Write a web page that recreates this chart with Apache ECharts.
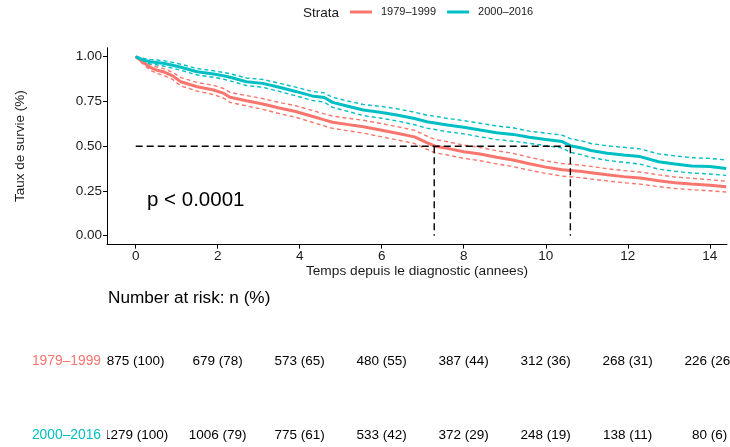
<!DOCTYPE html>
<html>
<head>
<meta charset="utf-8">
<script src="https://cdn.jsdelivr.net/npm/echarts@6/dist/echarts.min.js"></script>
<style>
html,body{margin:0;padding:0;background:#fff;}
#chart{width:730px;height:447px;}
</style>
</head>
<body>
<div id="chart"></div>
<script>
// ---- data ----
const strata = ['1979–1999', '2000–2016'];
const times = [0, 0.2, 0.35, 0.5, 0.67, 0.9, 1.1, 1.5, 1.9, 2.15, 2.3, 2.7, 3.1, 3.5, 3.9, 4.3, 4.6, 4.8, 5.15, 5.55, 6.0, 6.4, 6.8, 7.1, 7.3, 7.6, 8.0, 8.4, 8.8, 9.2, 9.6, 10.0, 10.4, 10.6, 10.9, 11.1, 11.5, 11.9, 12.3, 12.75, 13.15, 13.55, 14.0, 14.4];

const surv1979 = [1.0, 0.966, 0.941, 0.926, 0.916, 0.893, 0.860, 0.832, 0.814, 0.795, 0.773, 0.754, 0.736, 0.713, 0.694, 0.667, 0.647, 0.634, 0.622, 0.609, 0.589, 0.571, 0.552, 0.520, 0.500, 0.488, 0.469, 0.456, 0.438, 0.423, 0.402, 0.383, 0.368, 0.364, 0.358, 0.352, 0.340, 0.330, 0.322, 0.307, 0.296, 0.289, 0.282, 0.274];
const upper1979 = [1.0, 0.978, 0.957, 0.944, 0.935, 0.913, 0.883, 0.856, 0.840, 0.822, 0.801, 0.783, 0.766, 0.744, 0.726, 0.700, 0.681, 0.668, 0.657, 0.645, 0.626, 0.608, 0.589, 0.557, 0.537, 0.525, 0.506, 0.493, 0.475, 0.460, 0.438, 0.418, 0.403, 0.399, 0.393, 0.387, 0.374, 0.364, 0.356, 0.340, 0.328, 0.321, 0.313, 0.304];
const lower1979 = [1.0, 0.954, 0.925, 0.908, 0.897, 0.873, 0.837, 0.808, 0.788, 0.768, 0.745, 0.725, 0.706, 0.682, 0.662, 0.634, 0.613, 0.600, 0.587, 0.573, 0.552, 0.534, 0.515, 0.483, 0.463, 0.451, 0.432, 0.419, 0.401, 0.386, 0.366, 0.348, 0.333, 0.329, 0.323, 0.317, 0.306, 0.296, 0.288, 0.274, 0.264, 0.257, 0.251, 0.244];

const surv2000 = [1.0, 0.980, 0.972, 0.968, 0.963, 0.952, 0.941, 0.916, 0.903, 0.893, 0.885, 0.860, 0.851, 0.829, 0.806, 0.781, 0.772, 0.745, 0.725, 0.702, 0.688, 0.673, 0.655, 0.637, 0.630, 0.618, 0.606, 0.590, 0.575, 0.566, 0.550, 0.538, 0.526, 0.503, 0.489, 0.476, 0.461, 0.451, 0.442, 0.413, 0.401, 0.389, 0.386, 0.376];
const upper2000 = [1.0, 0.990, 0.985, 0.982, 0.978, 0.968, 0.958, 0.934, 0.921, 0.912, 0.905, 0.881, 0.873, 0.852, 0.830, 0.806, 0.798, 0.773, 0.754, 0.733, 0.722, 0.708, 0.690, 0.673, 0.667, 0.655, 0.643, 0.628, 0.613, 0.603, 0.584, 0.573, 0.562, 0.542, 0.528, 0.515, 0.502, 0.494, 0.485, 0.457, 0.446, 0.436, 0.432, 0.423];
const lower2000 = [1.0, 0.970, 0.960, 0.955, 0.948, 0.936, 0.924, 0.898, 0.885, 0.874, 0.865, 0.839, 0.829, 0.806, 0.782, 0.756, 0.746, 0.717, 0.696, 0.671, 0.656, 0.640, 0.620, 0.601, 0.593, 0.581, 0.569, 0.552, 0.537, 0.528, 0.516, 0.503, 0.490, 0.466, 0.451, 0.437, 0.421, 0.410, 0.400, 0.372, 0.360, 0.350, 0.345, 0.337];

const medians = [7.28, 10.6];
const medianLevel = 0.5;

const xTicks = [0, 2, 4, 6, 8, 10, 12, 14];
const yTicks = [0, 0.25, 0.5, 0.75, 1.0];

const riskTimes = [0, 2, 4, 6, 8, 10, 12, 14];
const n1979 = [875, 679, 573, 480, 387, 312, 268, 226];
const pct1979 = [100, 78, 65, 55, 44, 36, 31, 26];
const n2000 = [1279, 1006, 775, 533, 372, 248, 138, 80];
const pct2000 = [100, 79, 61, 42, 29, 19, 11, 6];

const pText = 'p < 0.0001';

// ---- styling ----
const RED = '#F8766D', TEAL = '#00BFC4';
const FONT = '"Liberation Sans", Arial, Helvetica, sans-serif';
const TXT = '#1a1a1a';

const pairs = (ys) => times.map((t, i) => [t, ys[i]]);

function mainLine(name, ys, color) {
  return { name, type: 'line', data: pairs(ys), showSymbol: false, symbol: 'none',
    color, itemStyle: { color }, lineStyle: { color, width: 3 }, z: 3, silent: true, xAxisIndex: 0, yAxisIndex: 0 };
}
function ciLine(name, ys, color) {
  return { name, type: 'line', data: pairs(ys), showSymbol: false, symbol: 'none',
    color, itemStyle: { color }, lineStyle: { color, width: 1.4, type: [4, 3] }, z: 2, silent: true, xAxisIndex: 0, yAxisIndex: 0 };
}
const medLineStyle = { color: '#000', width: 1.4, type: [7, 4] };
const medianSeries = [
  { type: 'line', data: [[0, medianLevel], [Math.max(...medians), medianLevel]], showSymbol: false, symbol: 'none', lineStyle: medLineStyle, z: 4, silent: true, xAxisIndex: 0, yAxisIndex: 0 }
].concat(medians.map(m => ({ type: 'line', data: [[m, medianLevel], [m, 0]], showSymbol: false, symbol: 'none', lineStyle: medLineStyle, z: 4, silent: true, xAxisIndex: 0, yAxisIndex: 0 })));

const riskRows = [
  riskTimes.map((t, i) => ({ value: [t, 0], label: n1979[i] + ' (' + pct1979[i] + ')' })),
  riskTimes.map((t, i) => ({ value: [t, 1], label: n2000[i] + ' (' + pct2000[i] + ')' }))
];
const riskData = riskRows[0].concat(riskRows[1]);

const chart = echarts.init(document.getElementById('chart'), null, { renderer: 'canvas' });

const option = {
  animation: false,
  backgroundColor: '#fff',
  textStyle: { fontFamily: FONT },
  grid: [
    { left: 107, top: 47.75, width: 620, height: 196.9 },
    { left: 107, top: 324, width: 623, height: 123 }
  ],
  legend: {
    data: strata,
    left: 350, top: 6.5, padding: 0,
    icon: 'rect', itemWidth: 22, itemHeight: 3, itemGap: 11,
    textStyle: { fontSize: 11, color: TXT, fontFamily: FONT, padding: [0, 0, 0, 4] },
    selectedMode: false
  },
  xAxis: [
    {
      type: 'value', gridIndex: 0, min: -0.7, max: 14.42,
      name: 'Temps depuis le diagnostic (annees)', nameLocation: 'middle', nameGap: 19,
      nameTextStyle: { fontSize: 13.7, color: TXT, fontFamily: FONT },
      axisLine: { show: true, onZero: false, lineStyle: { color: '#000', width: 1 } },
      axisTick: { show: true, length: 4, lineStyle: { color: '#000', width: 1 }, customValues: xTicks },
      axisLabel: { fontSize: 13.5, color: TXT, margin: 5, fontFamily: FONT, customValues: xTicks, formatter: v => String(v) },
      splitLine: { show: false }
    },
    {
      type: 'value', gridIndex: 1, min: -0.7, max: 14.495, show: false
    }
  ],
  yAxis: [
    {
      type: 'value', gridIndex: 0, min: -0.05, max: 1.05,
      name: 'Taux de survie (%)', nameLocation: 'middle', nameGap: 80, nameRotate: 90,
      nameTextStyle: { fontSize: 13.5, color: TXT, fontFamily: FONT },
      axisLine: { show: true, onZero: false, lineStyle: { color: '#000', width: 1 } },
      axisTick: { show: true, length: 4, lineStyle: { color: '#000', width: 1 }, customValues: yTicks },
      axisLabel: { fontSize: 13.5, color: TXT, margin: 5, fontFamily: FONT, customValues: yTicks, formatter: v => v.toFixed(2) },
      splitLine: { show: false }
    },
    {
      // risk-table rows: row index 0 and 1, 74px apart
      type: 'value', gridIndex: 1, inverse: true, min: -0.5, max: -0.5 + 123 / 74,
      axisLine: { show: false }, axisTick: { show: false }, splitLine: { show: false },
      axisLabel: { fontSize: 13.8, margin: 6, fontFamily: FONT, customValues: [0, 1],
        formatter: v => strata[Math.round(v)] || '',
        color: (v) => (Math.round(Number(v)) === 0 ? RED : TEAL) }
    }
  ],
  series: [
    mainLine(strata[0], surv1979, RED),
    mainLine(strata[1], surv2000, TEAL),
    ciLine(strata[0], upper1979, RED),
    ciLine(strata[0], lower1979, RED),
    ciLine(strata[1], upper2000, TEAL),
    ciLine(strata[1], lower2000, TEAL)
  ].concat(medianSeries).concat([
    {
      type: 'custom', xAxisIndex: 1, yAxisIndex: 1, clip: true, silent: true,
      data: riskData.map(d => d.value),
      renderItem: function (params, api) {
        const p = api.coord([api.value(0), api.value(1)]);
        return {
          type: 'text', x: p[0], y: p[1],
          style: { text: riskData[params.dataIndex].label, textAlign: 'center', textVerticalAlign: 'middle',
            fontSize: 13.5, fill: '#000', fontFamily: FONT }
        };
      }
    }
  ]),
  graphic: [
    { type: 'text', left: 303, top: 6, style: { text: 'Strata', fontSize: 13.5, fill: TXT, fontFamily: FONT } },
    { type: 'text', left: 147, top: 190, style: { text: pText, fontSize: 20.5, fill: '#000', fontFamily: FONT } },
    { type: 'text', left: 108, top: 290, style: { text: 'Number at risk: n (%)', fontSize: 17.2, fill: '#000', fontFamily: FONT } }
  ]
};
chart.setOption(option);
</script>
</body>
</html>
